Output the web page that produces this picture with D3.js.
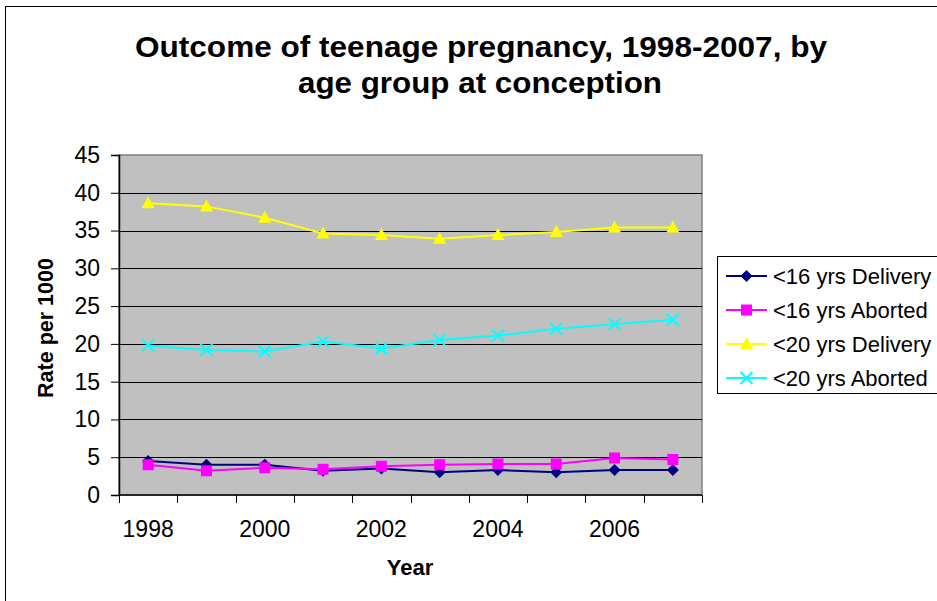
<!DOCTYPE html>
<html>
<head>
<meta charset="utf-8">
<script src="https://cdn.jsdelivr.net/npm/d3@7/dist/d3.min.js"></script>
<style>
  html, body { margin: 0; padding: 0; background: #fff; }
  svg { display: block; font-family: Arial, "Liberation Sans", sans-serif; }
</style>
</head>
<body>
<svg id="chart" width="937" height="601"></svg>
<script>
// Rates per 1000, by year of conception
const years = [1998, 1999, 2000, 2001, 2002, 2003, 2004, 2005, 2006, 2007];
const under16Delivery = [4.5, 4.0, 4.0, 3.2, 3.5, 3.0, 3.3, 3.0, 3.3, 3.3];
const under16Aborted  = [4.0, 3.2, 3.6, 3.4, 3.8, 4.0, 4.1, 4.1, 4.9, 4.7];
const under20Delivery = [38.6, 38.2, 36.7, 34.6, 34.4, 33.9, 34.4, 34.8, 35.4, 35.4];
const under20Aborted  = [19.8, 19.2, 19.0, 20.3, 19.4, 20.5, 21.1, 22.0, 22.6, 23.2];
const yTicks = [0, 5, 10, 15, 20, 25, 30, 35, 40, 45];
const xTickLabels = [1998, 2000, 2002, 2004, 2006];

const seriesNames = ["<16 yrs Delivery", "<16 yrs Aborted", "<20 yrs Delivery", "<20 yrs Aborted"];
const seriesValues = [under16Delivery, under16Aborted, under20Delivery, under20Aborted];
const seriesColors = ["#000080", "#FF00FF", "#FFFF00", "#00FFFF"];
const seriesSymbols = ["diamond", "square", "triangle", "cross"];

const svg = d3.select("#chart");
const plot = { left: 119, top: 155, right: 702, bottom: 495 };

// Outer chart frame
svg.append("rect")
  .attr("x", 5.5).attr("y", 6.5)
  .attr("width", 1000).attr("height", 700)
  .attr("fill", "#fff").attr("stroke", "#000").attr("stroke-width", 1);

// Title
const title = svg.append("text")
  .attr("text-anchor", "middle")
  .attr("font-weight", "bold")
  .attr("font-size", 30)
  .attr("fill", "#000");
title.append("tspan").attr("x", 481).attr("y", 57)
  .attr("textLength", 692).attr("lengthAdjust", "spacingAndGlyphs")
  .text("Outcome of teenage pregnancy, 1998-2007, by");
title.append("tspan").attr("x", 480).attr("y", 93)
  .attr("textLength", 364).attr("lengthAdjust", "spacingAndGlyphs")
  .text("age group at conception");

const x = d3.scaleBand()
  .domain(years)
  .range([plot.left, plot.right]);

const y = d3.scaleLinear()
  .domain([0, 45])
  .range([plot.bottom, plot.top]);

// Plot area background
svg.append("rect")
  .attr("x", plot.left).attr("y", plot.top)
  .attr("width", plot.right - plot.left).attr("height", plot.bottom - plot.top)
  .attr("fill", "#C0C0C0")
  .attr("stroke", "#808080").attr("stroke-width", 1.5);

// Horizontal gridlines
svg.append("g")
  .selectAll("line")
  .data(yTicks.filter(d => d > 0 && d < 45))
  .join("line")
  .attr("x1", plot.left).attr("x2", plot.right)
  .attr("y1", d => Math.round(y(d)) + 0.5).attr("y2", d => Math.round(y(d)) + 0.5)
  .attr("stroke", "#000").attr("stroke-width", 1);

// Y axis
const yAxis = svg.append("g")
  .attr("transform", `translate(${plot.left},0)`)
  .call(d3.axisLeft(y).tickValues(yTicks).tickSize(8).tickPadding(11).tickFormat(d3.format("d")));
yAxis.selectAll("text").attr("font-size", 23).attr("fill", "#000").attr("font-family", "Arial, 'Liberation Sans', sans-serif");
yAxis.selectAll("line").attr("stroke", "#000");
yAxis.select(".domain").attr("stroke", "#000").attr("stroke-width", 1.5);

// X axis: ticks sit between categories, labels at every other category
const xAxisG = svg.append("g").attr("transform", `translate(0,${plot.bottom})`);
xAxisG.append("line")
  .attr("x1", plot.left).attr("x2", plot.right)
  .attr("y1", 0).attr("y2", 0)
  .attr("stroke", "#000").attr("stroke-width", 1.5);
const boundaries = years.map(d => x(d)).concat([plot.right]);
xAxisG.selectAll(".tick-mark")
  .data(boundaries)
  .join("line")
  .attr("class", "tick-mark")
  .attr("x1", d => Math.round(d) + 0.5).attr("x2", d => Math.round(d) + 0.5)
  .attr("y1", 0).attr("y2", 8)
  .attr("stroke", "#000");
xAxisG.selectAll(".tick-label")
  .data(xTickLabels)
  .join("text")
  .attr("class", "tick-label")
  .attr("x", d => x(d) + x.bandwidth() / 2)
  .attr("y", 42)
  .attr("text-anchor", "middle")
  .attr("font-size", 23)
  .attr("fill", "#000")
  .text(d => d);

// Axis titles
svg.append("text")
  .attr("x", 410).attr("y", 575)
  .attr("text-anchor", "middle")
  .attr("font-weight", "bold").attr("font-size", 22)
  .text("Year");
svg.append("text")
  .attr("transform", "translate(53,328) rotate(-90)")
  .attr("text-anchor", "middle")
  .attr("font-weight", "bold").attr("font-size", 21.5)
  .text("Rate per 1000");

// Marker shapes
function drawMarker(g, kind, color) {
  if (kind === "diamond") {
    g.append("path").attr("d", "M0,-6L6,0L0,6L-6,0Z").attr("fill", color);
  } else if (kind === "square") {
    g.append("rect").attr("x", -5.5).attr("y", -5.5).attr("width", 11).attr("height", 11).attr("fill", color);
  } else if (kind === "triangle") {
    g.append("path").attr("d", "M0,-7L6.5,5L-6.5,5Z").attr("fill", color);
  } else {
    g.append("path").attr("d", "M-6,-6L6,6M-6,6L6,-6").attr("stroke", color).attr("stroke-width", 2).attr("fill", "none");
  }
}

const line = d3.line()
  .x((d, i) => x(years[i]) + x.bandwidth() / 2)
  .y(d => y(d));

seriesValues.forEach((vals, s) => {
  const g = svg.append("g");
  g.append("path")
    .datum(vals)
    .attr("d", line)
    .attr("fill", "none")
    .attr("stroke", seriesColors[s])
    .attr("stroke-width", 2);
  vals.forEach((v, i) => {
    const m = g.append("g").attr("transform", `translate(${x(years[i]) + x.bandwidth() / 2},${y(v)})`);
    drawMarker(m, seriesSymbols[s], seriesColors[s]);
  });
});

// Legend
const legend = svg.append("g");
legend.append("rect")
  .attr("x", 717.5).attr("y", 256.5)
  .attr("width", 300).attr("height", 137)
  .attr("fill", "#fff").attr("stroke", "#000").attr("stroke-width", 1);
seriesNames.forEach((name, s) => {
  const cy = 276 + s * 34;
  const item = legend.append("g").attr("transform", `translate(0,${cy})`);
  item.append("line").attr("x1", 726).attr("x2", 767).attr("y1", 0).attr("y2", 0)
    .attr("stroke", seriesColors[s]).attr("stroke-width", 2);
  const m = item.append("g").attr("transform", "translate(746.5,0)");
  drawMarker(m, seriesSymbols[s], seriesColors[s]);
  item.append("text")
    .attr("x", 773).attr("y", 8)
    .attr("font-size", 22).attr("fill", "#000")
    .text(name);
});
</script>
</body>
</html>
